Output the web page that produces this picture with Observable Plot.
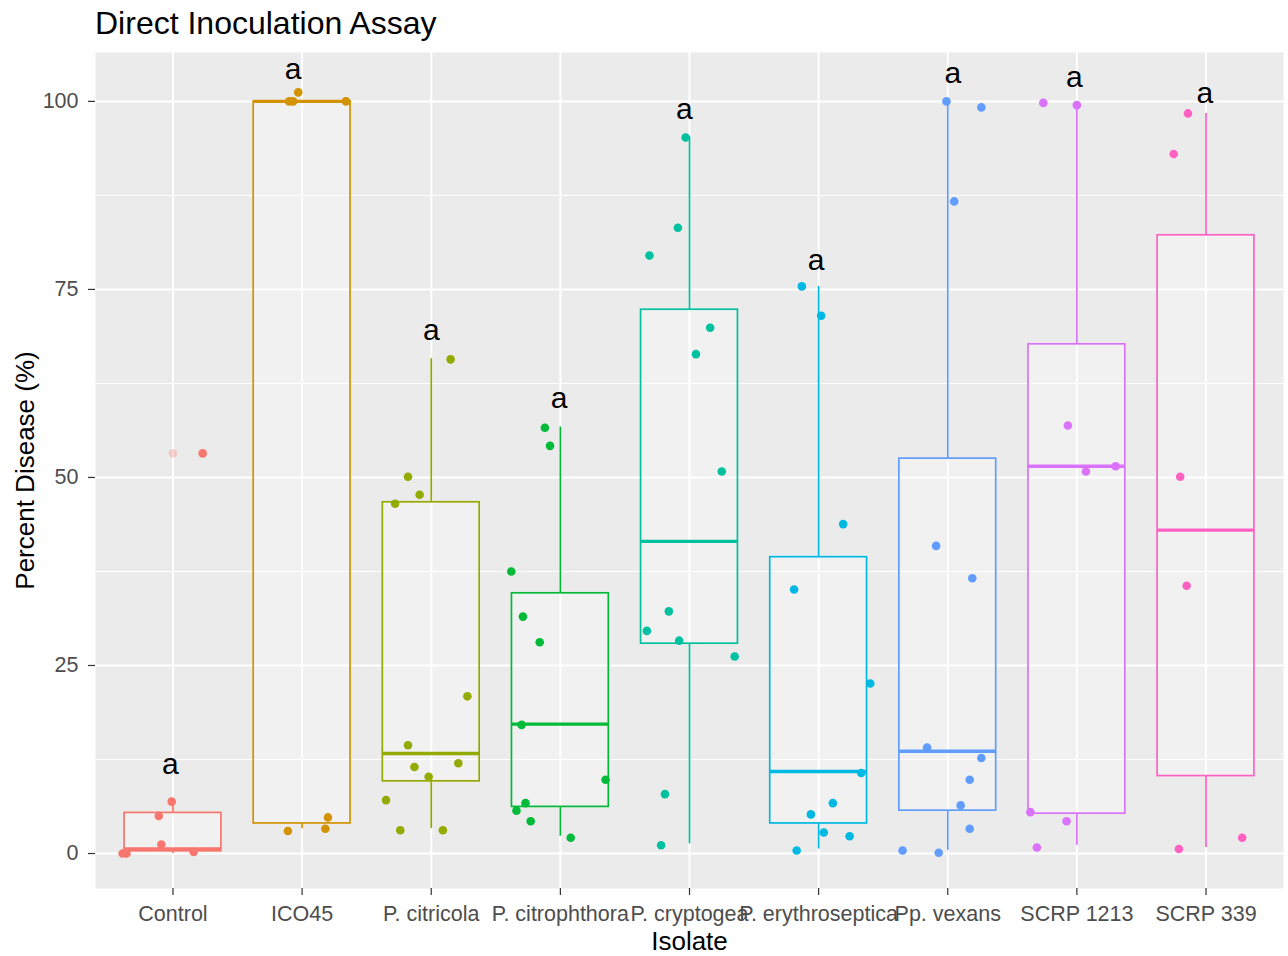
<!DOCTYPE html>
<html><head><meta charset="utf-8">
<script src="https://cdn.jsdelivr.net/npm/d3@7"></script>
<script src="https://cdn.jsdelivr.net/npm/@observablehq/plot@0.6"></script>
<style>
body{margin:0;background:#fff;font-family:"Liberation Sans",Arial,sans-serif;}
#wrap{position:relative;width:1288px;height:956px;overflow:hidden;}
#title{position:absolute;left:95px;top:7px;font-size:32px;line-height:32px;color:#000;white-space:nowrap;}
#chart{position:absolute;left:0;top:52px;}
</style></head><body>
<div id="wrap"><div id="title">Direct Inoculation Assay</div><div id="chart"></div></div>
<script>
const isolates = ["Control","ICO45","P. citricola","P. citrophthora","P. cryptogea","P. erythroseptica","Pp. vexans","SCRP 1213","SCRP 339"];
const colors = ["#F8766D","#D39200","#93AA00","#00BA38","#00C19F","#00B9E3","#619CFF","#DB72FB","#FF61C3"];

// box statistics
const q1          = [0.3, 4.0, 9.6, 6.2, 27.9, 4.0, 5.7, 5.3, 10.3];
const median      = [0.6, 100, 13.3, 17.2, 41.5, 10.9, 13.6, 51.5, 43.0];
const q3          = [5.4, 100, 46.7, 34.6, 72.3, 39.4, 52.5, 67.7, 82.2];
const whiskerLow  = [0.0, 3.3, 3.3, 2.3, 1.3, 0.6, 0.4, 1.1, 0.8];
const whiskerHigh = [6.8, 100, 65.8, 56.7, 95.3, 75.4, 100, 99.5, 98.4];
const outlierGroup = ["Control"];
const outlierValue = [53.2];

// jittered observations
const pointValues = [
  [0.0, 0.0, 0.2, 1.2, 5.0, 6.9, 53.2],
  [100, 100, 101.2, 100, 3.0, 3.3, 4.8],
  [65.7, 50.1, 47.7, 46.5, 20.9, 14.4, 11.5, 12.0, 10.2, 7.1, 3.1, 3.1],
  [56.6, 54.2, 37.5, 31.5, 28.1, 17.1, 9.8, 6.7, 5.7, 4.3, 2.1],
  [95.2, 83.2, 79.5, 69.9, 66.4, 50.8, 32.2, 29.6, 28.3, 26.2, 7.9, 1.1],
  [75.4, 71.5, 43.8, 35.1, 22.6, 10.7, 6.7, 5.2, 2.8, 2.3, 0.4],
  [100, 99.2, 86.7, 40.9, 36.6, 14.1, 12.7, 9.8, 6.4, 3.3, 0.4, 0.1],
  [99.8, 99.5, 56.9, 51.5, 50.8, 5.5, 4.3, 0.8],
  [98.4, 93.0, 50.1, 35.6, 2.1, 0.6]
];
const pointJitter = [
  [-0.39, -0.36, 0.16, -0.09, -0.11, -0.01, 0.23],
  [-0.10, -0.07, -0.03, 0.34, -0.11, 0.18, 0.20],
  [0.15, -0.18, -0.09, -0.28, 0.28, -0.18, -0.13, 0.21, -0.02, -0.35, -0.24, 0.09],
  [-0.12, -0.08, -0.38, -0.29, -0.16, -0.30, 0.35, -0.27, -0.34, -0.23, 0.08],
  [-0.03, -0.09, -0.31, 0.16, 0.05, 0.25, -0.16, -0.33, -0.08, 0.35, -0.19, -0.22],
  [-0.13, 0.02, 0.19, -0.19, 0.40, 0.33, 0.11, -0.06, 0.04, 0.24, -0.17],
  [-0.01, 0.26, 0.05, -0.09, 0.19, -0.16, 0.26, 0.17, 0.10, 0.17, -0.35, -0.07],
  [-0.26, 0.00, -0.07, 0.30, 0.07, -0.36, -0.08, -0.31],
  [-0.14, -0.25, -0.20, -0.15, 0.28, -0.21]
];

// significance letters
const letters = ["a","a","a","a","a","a","a","a","a"];
const letterValue = [11.8, 104.3, 69.6, 60.5, 98.9, 78.9, 103.7, 103.2, 101.0];
const letterShift = [-0.02, -0.07, 0.0, -0.01, -0.04, -0.02, 0.04, -0.02, -0.01];

const yTicks = [0, 25, 50, 75, 100];
const yMinor = [12.5, 37.5, 62.5, 87.5];

// build tables
const pos = isolates.map((_, i) => i + 1);
const boxes = isolates.map((name, i) => ({
  name, i: i + 1, q1: q1[i], median: median[i], q3: q3[i], lo: whiskerLow[i], hi: whiskerHigh[i]
}));
const points = isolates.flatMap((name, i) =>
  pointValues[i].map((v, k) => ({name, i: i + 1, value: v, jitter: pointJitter[i][k]})));
const outliers = outlierGroup.map((name, k) => ({name, i: isolates.indexOf(name) + 1, value: outlierValue[k]}));
const letterData = isolates.map((name, i) => ({name, i: i + 1, letter: letters[i], y: letterValue[i], shift: letterShift[i]}));

const half = 0.375;
const font = "Liberation Sans, Arial, sans-serif";

const chart = Plot.plot({
  width: 1288,
  height: 904,
  marginLeft: 95,
  marginRight: 5,
  marginTop: 0,
  marginBottom: 68,
  style: {fontFamily: font, background: "transparent", overflow: "visible"},
  x: {type: "linear", domain: [0.4, 9.6], axis: null},
  y: {domain: [-4.65, 106.5], axis: null},
  color: {domain: isolates, range: colors},
  marks: [
    Plot.frame({fill: "#EBEBEB", stroke: "none"}),
    Plot.ruleY(yMinor, {stroke: "white", strokeWidth: 1}),
    Plot.ruleY(yTicks, {stroke: "white", strokeWidth: 2}),
    Plot.ruleX(pos, {stroke: "white", strokeWidth: 2}),
    Plot.ruleX(boxes, {x: "i", y1: "q3", y2: "hi", stroke: "name", strokeWidth: 1.7}),
    Plot.ruleX(boxes, {x: "i", y1: "lo", y2: "q1", stroke: "name", strokeWidth: 1.7}),
    Plot.rect(boxes, {x1: d => d.i - half, x2: d => d.i + half, y1: "q1", y2: "q3",
      fill: "white", fillOpacity: 0.3, stroke: "name", strokeWidth: 1.7}),
    Plot.ruleY(boxes, {y: "median", x1: d => d.i - half, x2: d => d.i + half, stroke: "name", strokeWidth: 3.4}),
    Plot.dot(outliers, {x: "i", y: "value", fill: "name", r: 4.3, fillOpacity: 0.3, stroke: "none"}),
    Plot.dot(points, {x: d => d.i + d.jitter, y: "value", fill: "name", r: 4.3, stroke: "none"}),
    Plot.text(letterData, {x: d => d.i + d.shift, y: "y", text: "letter", fontSize: 30, fill: "black"}),
    Plot.axisX({ticks: pos, tickFormat: i => isolates[i - 1], tickSize: 7, tickPadding: 10,
      fontSize: 21.5, label: null, stroke: "#333333", fill: "#4D4D4D", strokeWidth: 1.2}),
    Plot.axisY({ticks: yTicks, tickSize: 7, tickPadding: 10, fontSize: 21.5, label: null,
      stroke: "#333333", fill: "#4D4D4D", strokeWidth: 1.2}),
    Plot.text(["Isolate"], {frameAnchor: "bottom", lineAnchor: "middle", dy: 53.5, fontSize: 26, fill: "black"}),
    Plot.text(["Percent Disease (%)"], {frameAnchor: "left", textAnchor: "middle", lineAnchor: "middle",
      dx: -70, rotate: -90, fontSize: 26, fill: "black"})
  ]
});
document.getElementById("chart").appendChild(chart);
</script>
</body></html>
